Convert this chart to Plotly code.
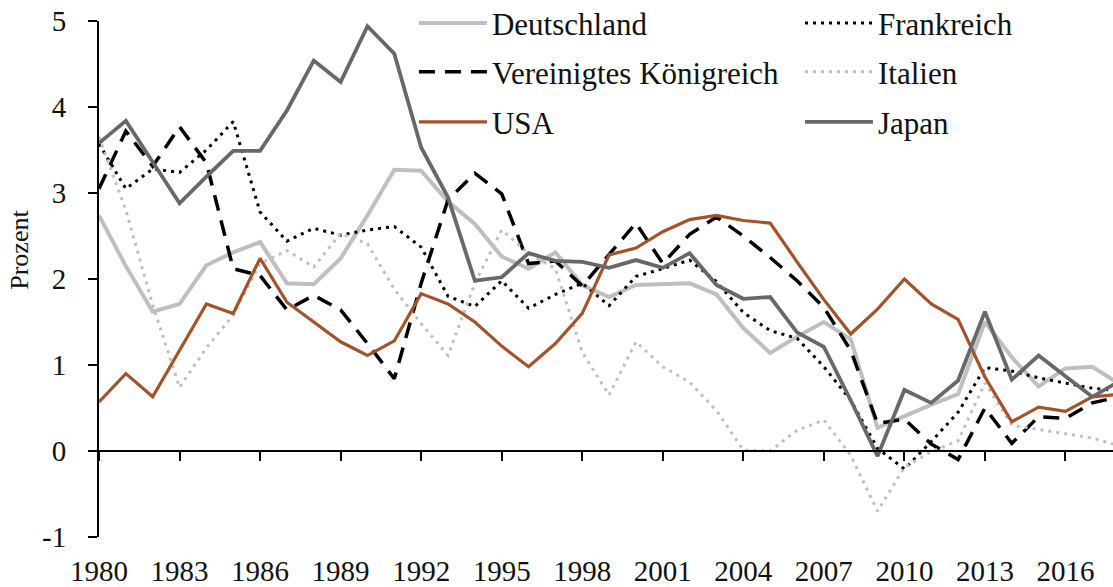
import plotly.graph_objects as go

years = list(range(1980, 2019))

deutschland = [2.74, 2.15, 1.62, 1.71, 2.16, 2.31, 2.43, 1.95, 1.94, 2.24, 2.74, 3.27, 3.26, 2.90, 2.64, 2.26, 2.12, 2.31, 1.93, 1.79,
               1.93, 1.94, 1.95, 1.82, 1.43, 1.14, 1.33, 1.50, 1.30, 0.27, 0.41, 0.54, 0.66, 1.50, 1.09, 0.75, 0.96, 0.98, 0.78]
frankreich = [3.57, 3.05, 3.28, 3.24, 3.50, 3.83, 2.78, 2.44, 2.59, 2.51, 2.57, 2.61, 2.37, 1.80, 1.68, 1.98, 1.66, 1.82, 1.95, 1.69,
              2.03, 2.12, 2.22, 1.97, 1.61, 1.40, 1.31, 0.98, 0.59, 0.03, -0.21, 0.11, 0.45, 0.97, 0.93, 0.85, 0.79, 0.73, 0.70]
vereinigtes_koenigreich = [3.05, 3.72, 3.31, 3.77, 3.35, 2.12, 2.04, 1.64, 1.81, 1.64, 1.25, 0.84, 1.95, 2.92, 3.23, 2.99, 2.18, 2.21, 1.92, 2.28,
                           2.65, 2.18, 2.52, 2.72, 2.50, 2.25, 1.98, 1.67, 1.17, 0.32, 0.37, 0.08, -0.10, 0.50, 0.09, 0.40, 0.38, 0.56, 0.63]
italien = [3.65, 2.80, 1.70, 0.74, 1.20, 1.58, 2.18, 2.33, 2.14, 2.53, 2.41, 1.88, 1.48, 1.11, 1.95, 2.57, 2.30, 2.12, 1.15, 0.65,
           1.27, 0.98, 0.80, 0.47, 0.01, 0.00, 0.24, 0.36, -0.05, -0.70, -0.19, -0.01, 0.12, 0.79, 0.30, 0.25, 0.20, 0.15, 0.06]
usa = [0.57, 0.90, 0.63, 1.17, 1.71, 1.60, 2.24, 1.73, 1.50, 1.27, 1.11, 1.28, 1.83, 1.71, 1.50, 1.22, 0.98, 1.25, 1.60, 2.28,
       2.36, 2.55, 2.69, 2.74, 2.68, 2.65, 2.20, 1.76, 1.36, 1.65, 2.00, 1.71, 1.53, 0.86, 0.34, 0.51, 0.46, 0.63, 0.66]
japan = [3.58, 3.84, 3.36, 2.88, 3.19, 3.49, 3.49, 3.96, 4.54, 4.29, 4.94, 4.62, 3.53, 2.95, 1.98, 2.02, 2.30, 2.21, 2.20, 2.13,
         2.22, 2.13, 2.30, 1.93, 1.77, 1.79, 1.38, 1.21, 0.59, -0.06, 0.71, 0.56, 0.82, 1.62, 0.83, 1.11, 0.87, 0.63, 0.81]

x_tick_vals = list(range(1980, 2017, 3))
x_tick_text = [str(v) for v in x_tick_vals]
y_tick_vals = [-1, 0, 1, 2, 3, 4, 5]
y_tick_text = ["-1", "0", "1", "2", "3", "4", "5"]

FONT = "Liberation Serif"
TXT = "#111111"

# name, values, line style, legend id, legend x (paper), legend y (paper)
series = [
    ("Deutschland", deutschland, dict(color="#bfbfbf", width=4, dash="solid"), "legend", 0.3106, 0.9955),
    ("Frankreich", frankreich, dict(color="#000000", width=3, dash="3px,5px"), "legend2", 0.6913, 0.9955),
    ("Vereinigtes Königreich", vereinigtes_koenigreich, dict(color="#000000", width=3.5, dash="16px,10px"), "legend3", 0.3106, 0.901),
    ("Italien", italien, dict(color="#c0c0c0", width=3, dash="3px,5px"), "legend4", 0.6913, 0.901),
    ("USA", usa, dict(color="#a3532a", width=3.2, dash="solid"), "legend5", 0.3106, 0.804),
    ("Japan", japan, dict(color="#686868", width=3.8, dash="solid"), "legend6", 0.6913, 0.804),
]

fig = go.Figure()
legends = {}
for name, vals, line, lg, lx, ly in series:
    fig.add_trace(go.Scatter(x=years, y=vals, name=name, mode="lines", line=line,
                             legend=lg, hoverinfo="skip"))
    legends[lg] = dict(orientation="v", xanchor="left", yanchor="middle", x=lx, y=ly,
                       font=dict(family=FONT, size=31, color=TXT), bgcolor="rgba(0,0,0,0)",
                       itemwidth=68, borderwidth=0)

# carrier for the zero-crossing axis with tick marks
fig.add_trace(go.Scatter(x=[], y=[], xaxis="x2", yaxis="y", showlegend=False, hoverinfo="skip"))

x_range = [1980, 2017.77]

fig.update_layout(
    width=1113, height=587,
    margin=dict(l=99, r=0, t=21, b=50, autoexpand=False),
    plot_bgcolor="white", paper_bgcolor="white",
    font=dict(family=FONT, size=29, color=TXT),
    showlegend=True,
    **legends,
    xaxis=dict(range=x_range, tickvals=x_tick_vals, ticktext=x_tick_text,
               showline=False, showgrid=False, zeroline=False, ticks="", automargin=False,
               ticklabelstandoff=14, tickfont=dict(family=FONT, size=29, color=TXT)),
    xaxis2=dict(range=x_range, overlaying="x", anchor="free", position=1/6, side="bottom",
                tickvals=x_tick_vals, showticklabels=False, showline=True,
                linecolor="black", linewidth=2, ticks="outside", ticklen=9,
                tickwidth=2, tickcolor="black", showgrid=False, zeroline=False),
    yaxis=dict(range=[-1, 5], tickvals=y_tick_vals, ticktext=y_tick_text, automargin=False,
               showline=True, linecolor="black", linewidth=2, ticks="outside",
               ticklen=9, tickwidth=2, tickcolor="black", showgrid=False, zeroline=False,
               ticklabelstandoff=16, tickfont=dict(family=FONT, size=29, color=TXT)),
)

fig.add_annotation(text="Prozent", xref="paper", yref="paper", x=-0.0955, y=0.556,
                   xanchor="left", yanchor="middle", textangle=-90, showarrow=False,
                   font=dict(family=FONT, size=26, color=TXT))

fig.write_html("out.html",
               config={"displayModeBar": False, "staticPlot": True},
               post_script="document.body.style.margin='0';document.body.style.padding='0';"
                           "document.body.style.overflow='hidden';")
